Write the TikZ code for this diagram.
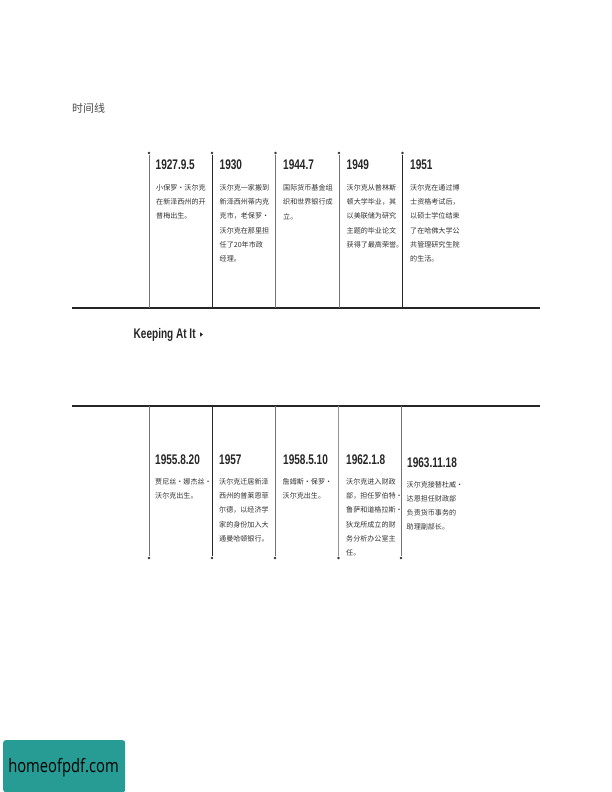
\documentclass[tikz,border=0pt]{standalone}
\usepackage{fontspec}
\setmainfont{Liberation Sans}
\newfontfamily\cjkfont{Noto Sans CJK SC}
\newfontfamily\datefont[FakeStretch=0.72]{Liberation Sans}
\newfontfamily\logofont[FakeStretch=0.8]{Open Sans}
\definecolor{logoteal}{HTML}{269C94}
\tikzset{
  axisline/.style={line width=2bp,draw=black!85},
  ticklight/.style={line width=0.8bp,draw=black!55},
  tickdark/.style={line width=0.8bp,draw=black!85},
  tickpale/.style={line width=0.8bp,draw=black!42},
  enddot/.style={circle,fill=black!80,inner sep=0pt,minimum size=2.8bp},
  datelabel/.style={anchor=west,inner sep=0pt,font=\datefont\bfseries\fontsize{14}{14}\selectfont,text=black!85},
  bodytext/.style={anchor=north west,inner sep=0pt,align=left,text=black!80,
    font=\cjkfont\fontsize{7.1}{14.2}\selectfont},
  plainlabel/.style={anchor=west,inner sep=0pt}
}
\begin{document}
\begin{tikzpicture}[x=1bp,y=-1bp]
\useasboundingbox (0,0) rectangle (612,792);
\fill[white] (0,0) rectangle (612,792);

\node[plainlabel,font=\cjkfont\fontsize{11}{11}\selectfont,text=black!70] (title) at (72,108.5) {时间线};

% axes
\coordinate (a1l) at (72,308.3); \coordinate (a1r) at (540,308.3);
\coordinate (a2l) at (72,405.5); \coordinate (a2r) at (540,405.5);
\draw[axisline] (a1l) -- (a1r);
\draw[axisline] (a2l) -- (a2r);

% upper ticks
\foreach \n/\x/\s in {a/149/ticklight,b/212/tickdark,c/275.5/ticklight,d/339/ticklight,e/402.5/tickdark}{
  \node[enddot] (top\n) at (\x,153) {};
  \coordinate (topbase\n) at (\x,308.3);
  \draw[\s] (top\n) -- (topbase\n);
}
% lower ticks
\foreach \n/\x/\s in {a/149/ticklight,b/212/tickdark,c/275/ticklight,d/338.5/tickpale,e/401/ticklight}{
  \node[enddot] (bot\n) at (\x,558) {};
  \coordinate (botbase\n) at (\x,405.5);
  \draw[\s] (botbase\n) -- (bot\n);
}

% upper labels
\node[datelabel] (d1) at (155.5,164.5) {1927.9.5};
\node[bodytext] (t1) at (156,184.5) {小保罗·沃尔克\\在新泽西州的开\\普梅出生。};
\node[datelabel] (d2) at (219.5,164.5) {1930};
\node[bodytext] (t2) at (219.5,184.5) {沃尔克一家搬到\\新泽西州蒂内克\\克市，老保罗·\\沃尔克在那里担\\任了20年市政\\经理。};
\node[datelabel] (d3) at (283,164.5) {1944.7};
\node[bodytext] (t3) at (283,184.5) {国际货币基金组\\织和世界银行成\\立。};
\node[datelabel] (d4) at (346.5,164.5) {1949};
\node[bodytext] (t4) at (346.5,184.5) {沃尔克从普林斯\\顿大学毕业，其\\以美联储为研究\\主题的毕业论文\\获得了最高荣誉。};
\node[datelabel] (d5) at (410,164.5) {1951};
\node[bodytext] (t5) at (410,184.5) {沃尔克在通过博\\士资格考试后，\\以硕士学位结束\\了在哈佛大学公\\共管理研究生院\\的生活。};

% middle label
\node[plainlabel,font=\datefont\bfseries\fontsize{14}{14}\selectfont,text=black!85] (keep) at (133.5,335) {Keeping At It};
\fill[black!85] (200,332.3) -- (203,334.5) -- (200,336.7) -- cycle;

% lower labels
\node[datelabel] (d6) at (155,459.5) {1955.8.20};
\node[bodytext] (t6) at (155,478.5) {贾尼丝·娜杰丝·\\沃尔克出生。};
\node[datelabel] (d7) at (219,459.5) {1957};
\node[bodytext] (t7) at (219,478.5) {沃尔克迁居新泽\\西州的普莱恩菲\\尔德，以经济学\\家的身份加入大\\通曼哈顿银行。};
\node[datelabel] (d8) at (283,459.5) {1958.5.10};
\node[bodytext] (t8) at (282.5,478.5) {詹姆斯·保罗·\\沃尔克出生。};
\node[datelabel] (d9) at (346,459.5) {1962.1.8};
\node[bodytext] (t9) at (346,478.5) {沃尔克进入财政\\部，担任罗伯特·\\鲁萨和道格拉斯·\\狄龙所成立的财\\务分析办公室主\\任。};
\node[datelabel] (d10) at (407,462.5) {1963.11.18};
\node[bodytext] (t10) at (406.5,481) {沃尔克接替杜威·\\达恩担任财政部\\负责货币事务的\\助理副部长。};

% logo
\node[draw=none,fill=logoteal,rounded corners=2.5bp,anchor=north west,inner sep=0pt,minimum width=122bp,minimum height=52bp] (logobox) at (3,740) {};
\node[inner sep=0pt,text=black,font=\logofont\fontsize{18.5}{18.5}\selectfont] (logotext) at (63.5,768) {homeofpdf.com};
\end{tikzpicture}
\end{document}
